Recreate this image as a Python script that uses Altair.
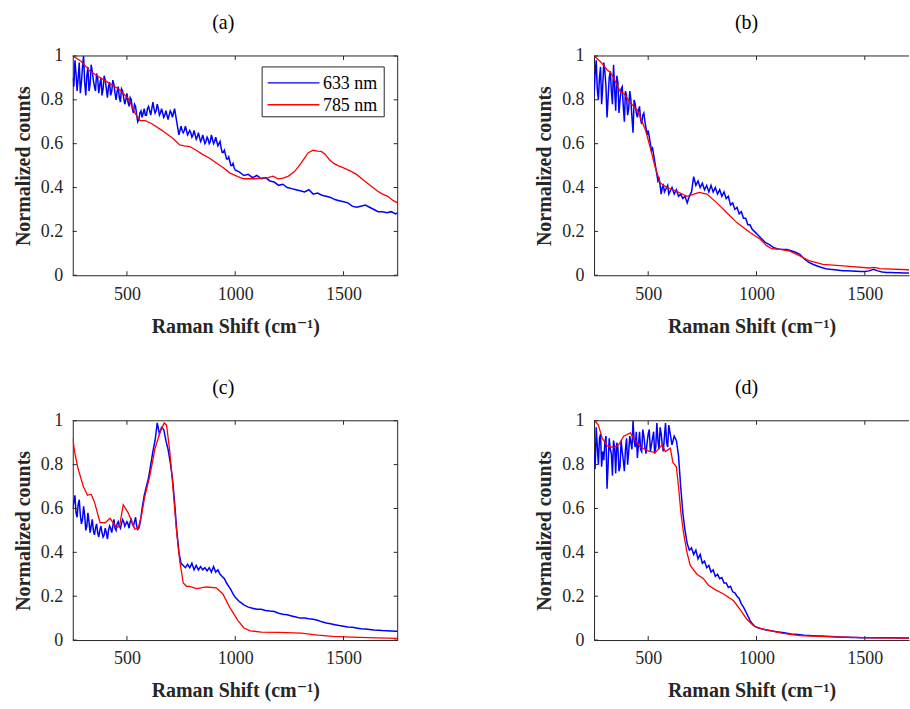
import altair as alt
import pandas as pd

FONT = "'Liberation Serif', 'Times New Roman', Times, 'DejaVu Serif', serif"
AX = "#262626"
SERIES = ["633 nm", "785 nm"]
COLORS = ["#0000ff", "#ff0000"]
X_TICKS = [500, 1000, 1500]
Y_TICKS = [0, 0.2, 0.4, 0.6, 0.8, 1.0]
X_TITLE = "Raman Shift (cm\u207b\u00b9)"
Y_TITLE = "Normalized counts"
PANEL_TITLES = ["(a)", "(b)", "(c)", "(d)"]

# sample positions of the 633 nm spectra
XB = list(range(250, 1001, 10)) + list(range(1020, 1741, 20)) + [1750]
XF = list(range(255, 596, 10))      # extra samples in the noisy low-shift part
XF_A = list(range(605, 996, 10))    # extra samples for panel (a)

A_BLUE = [0.90, 0.98, 0.84, 0.97, 0.88, 1.00, 0.82, 0.95, 0.87, 0.93,
          0.86, 0.92, 0.83, 0.90, 0.85, 0.89, 0.81, 0.88, 0.84, 0.87,
          0.80, 0.86, 0.79, 0.84, 0.78, 0.83, 0.77, 0.80, 0.74, 0.77,
          0.70, 0.74, 0.72, 0.76, 0.73, 0.77, 0.73, 0.79, 0.74, 0.78,
          0.73, 0.76, 0.72, 0.75, 0.71, 0.75, 0.72, 0.76, 0.70, 0.64,
          0.68, 0.65, 0.68, 0.64, 0.66, 0.63, 0.66, 0.62, 0.65, 0.61,
          0.64, 0.60, 0.63, 0.60, 0.64, 0.60, 0.63, 0.59, 0.61, 0.56,
          0.57, 0.53, 0.54, 0.50, 0.51, 0.48,
          0.47, 0.455, 0.46, 0.445, 0.455, 0.44, 0.445, 0.43, 0.425, 0.41,
          0.415, 0.40, 0.395, 0.39, 0.385, 0.38, 0.39, 0.37, 0.375, 0.365,
          0.36, 0.355, 0.345, 0.34, 0.335, 0.33, 0.315, 0.31, 0.315, 0.32,
          0.31, 0.30, 0.29, 0.29, 0.285, 0.29, 0.28,
          0.285]
A_BLUE_F = [0.86, 0.92, 0.90, 0.83, 0.95, 0.88, 0.91, 0.84, 0.96, 0.89,
            0.84, 0.90, 0.87, 0.82, 0.91, 0.85, 0.86, 0.82, 0.89, 0.83,
            0.84, 0.81, 0.85, 0.81, 0.80, 0.79, 0.81, 0.76, 0.78, 0.73,
            0.71, 0.75, 0.74, 0.73, 0.76]
A_BLUE_FA = [0.75, 0.76, 0.76, 0.75, 0.76, 0.74, 0.74, 0.73, 0.73, 0.73,
             0.74, 0.74, 0.73, 0.67, 0.66, 0.66, 0.66, 0.66, 0.65, 0.65,
             0.64, 0.64, 0.63, 0.63, 0.62, 0.62, 0.61, 0.62, 0.61, 0.62,
             0.61, 0.61, 0.60, 0.58, 0.56, 0.55, 0.53, 0.52, 0.50, 0.49]
A_RED_X = [250, 290, 330, 370, 422, 468, 506, 537, 560, 585, 613, 660, 713, 744,
           765, 790, 820, 851, 880, 913, 945, 974, 1012, 1040, 1090, 1120, 1152,
           1175, 1198, 1220, 1244, 1275, 1305, 1336, 1359, 1380, 1397, 1415, 1435,
           1455, 1474, 1500, 1535, 1560, 1597, 1630, 1658, 1680, 1704, 1730, 1750]
A_RED_Y = [1.0, 0.975, 0.93, 0.905, 0.874, 0.845, 0.806, 0.74, 0.705, 0.705, 0.692,
           0.662, 0.624, 0.594, 0.59, 0.587, 0.57, 0.55, 0.535, 0.512, 0.49, 0.467,
           0.45, 0.44, 0.44, 0.443, 0.445, 0.452, 0.44, 0.443, 0.451, 0.474, 0.512,
           0.558, 0.57, 0.566, 0.565, 0.552, 0.527, 0.51, 0.50, 0.49, 0.474, 0.46,
           0.43, 0.405, 0.383, 0.37, 0.36, 0.34, 0.33]

B_BLUE = [0.82, 0.98, 0.80, 0.95, 0.86, 0.93, 0.72, 0.90, 0.84, 0.96,
          0.75, 0.88, 0.80, 0.86, 0.70, 0.82, 0.76, 0.80, 0.65, 0.78,
          0.72, 0.77, 0.69, 0.74, 0.67, 0.66, 0.60, 0.58, 0.52, 0.46,
          0.44, 0.37, 0.41, 0.39, 0.41, 0.38, 0.40, 0.37, 0.39, 0.36,
          0.37, 0.35, 0.36, 0.33, 0.36, 0.38, 0.45, 0.41, 0.43, 0.40,
          0.42, 0.39, 0.41, 0.38, 0.41, 0.38, 0.40, 0.37, 0.39, 0.36,
          0.38, 0.35, 0.36, 0.32, 0.33, 0.30, 0.31, 0.28, 0.29, 0.26,
          0.26, 0.23, 0.23, 0.21, 0.20, 0.19,
          0.17, 0.15, 0.14, 0.125, 0.12, 0.118, 0.118, 0.112, 0.105, 0.095,
          0.075, 0.06, 0.05, 0.042, 0.035, 0.03, 0.027, 0.025, 0.023, 0.021,
          0.02, 0.019, 0.018, 0.017, 0.017, 0.02, 0.027, 0.02, 0.015, 0.013,
          0.012, 0.011, 0.011, 0.01, 0.01, 0.01, 0.01,
          0.01]
B_BLUE_F = [0.92, 0.85, 0.90, 0.78, 0.97, 0.86, 0.81, 0.93, 0.78, 0.85,
            0.91, 0.74, 0.85, 0.77, 0.84, 0.73, 0.84, 0.72, 0.80, 0.74,
            0.75, 0.71, 0.73, 0.70, 0.64, 0.63, 0.57, 0.55, 0.49, 0.43,
            0.41, 0.40, 0.38, 0.40, 0.37]
B_RED_X = [250, 280, 311, 326, 340, 372, 387, 418, 449, 487, 510, 533, 556, 587,
           633, 679, 705, 735, 771, 817, 863, 909, 970, 1016, 1047, 1070, 1108,
           1154, 1200, 1246, 1307, 1430, 1520, 1545, 1570, 1700, 1750]
B_RED_Y = [1.0, 0.974, 0.936, 0.925, 0.90, 0.836, 0.83, 0.785, 0.755, 0.664, 0.58,
           0.49, 0.42, 0.40, 0.382, 0.36, 0.368, 0.378, 0.37, 0.33, 0.285, 0.24,
           0.195, 0.165, 0.135, 0.121, 0.118, 0.11, 0.088, 0.065, 0.05, 0.04,
           0.033, 0.036, 0.03, 0.025, 0.024]

C_BLUE = [0.60, 0.66, 0.56, 0.64, 0.53, 0.61, 0.50, 0.58, 0.49, 0.55,
          0.48, 0.53, 0.47, 0.52, 0.47, 0.51, 0.46, 0.52, 0.49, 0.55,
          0.50, 0.54, 0.51, 0.55, 0.52, 0.54, 0.51, 0.55, 0.52, 0.56,
          0.505, 0.53, 0.60, 0.66, 0.70, 0.74, 0.80, 0.86, 0.91, 0.99,
          0.94, 0.97, 0.96, 0.91, 0.87, 0.81, 0.74, 0.63, 0.50, 0.40,
          0.35, 0.34, 0.33, 0.345, 0.33, 0.35, 0.32, 0.34, 0.32, 0.335,
          0.32, 0.33, 0.315, 0.33, 0.31, 0.335, 0.31, 0.32, 0.30, 0.29,
          0.28, 0.26, 0.245, 0.23, 0.21, 0.195,
          0.175, 0.16, 0.15, 0.145, 0.14, 0.14, 0.135, 0.132, 0.13, 0.122,
          0.118, 0.115, 0.11, 0.105, 0.10, 0.10, 0.097, 0.095, 0.09, 0.083,
          0.078, 0.074, 0.07, 0.066, 0.063, 0.06, 0.058, 0.055, 0.052, 0.05,
          0.048, 0.046, 0.045, 0.043, 0.042, 0.041, 0.04,
          0.04]
C_BLUE_F = [0.63, 0.58, 0.62, 0.57, 0.55, 0.57, 0.52, 0.54, 0.52, 0.50,
            0.51, 0.49, 0.50, 0.49, 0.48, 0.49, 0.50, 0.51, 0.52, 0.51,
            0.53, 0.52, 0.53, 0.54, 0.53, 0.53, 0.54, 0.53, 0.54, 0.52,
            0.51, 0.56, 0.63, 0.68, 0.72]
C_RED_X = [250, 260, 275, 299, 318, 335, 350, 376, 400, 422, 452, 466, 483, 506,
           521, 537, 552, 567, 583, 606, 629, 652, 672, 683, 698, 713, 728, 744,
           760, 775, 790, 821, 867, 913, 943, 974, 1012, 1040, 1070, 1121, 1200,
           1305, 1382, 1450, 1535, 1650, 1750]
C_RED_Y = [0.92, 0.85, 0.78, 0.70, 0.66, 0.665, 0.63, 0.536, 0.535, 0.555, 0.513,
           0.52, 0.617, 0.58, 0.545, 0.505, 0.51, 0.567, 0.657, 0.75, 0.87, 0.945,
           0.99, 0.98, 0.86, 0.69, 0.51, 0.36, 0.26, 0.245, 0.245, 0.235, 0.242,
           0.238, 0.21, 0.15, 0.09, 0.055, 0.042, 0.036, 0.035, 0.032, 0.022,
           0.017, 0.013, 0.01, 0.008]

D_BLUE = [0.85, 0.97, 0.80, 0.94, 0.86, 0.90, 0.69, 0.92, 0.85, 0.91,
          0.76, 0.88, 0.79, 0.86, 0.77, 0.92, 0.86, 0.90, 1.00, 0.88,
          0.83, 0.95, 0.86, 0.93, 0.85, 0.94, 0.86, 0.92, 0.85, 0.99,
          0.87, 0.94, 0.86, 0.99, 0.88, 0.95, 0.89, 0.93, 0.91, 0.84,
          0.70, 0.58, 0.50, 0.44, 0.41, 0.42, 0.39, 0.41, 0.37, 0.39,
          0.35, 0.36, 0.33, 0.34, 0.31, 0.32, 0.29, 0.30, 0.28, 0.285,
          0.26, 0.26, 0.24, 0.245, 0.22, 0.215, 0.20, 0.19, 0.165, 0.15,
          0.13, 0.11, 0.09, 0.075, 0.065, 0.058,
          0.052, 0.047, 0.044, 0.04, 0.037, 0.034, 0.031, 0.028, 0.026, 0.024,
          0.022, 0.021, 0.02, 0.019, 0.018, 0.017, 0.016, 0.015, 0.014, 0.013,
          0.013, 0.012, 0.012, 0.011, 0.011, 0.01, 0.01, 0.01, 0.01, 0.01,
          0.01, 0.01, 0.009, 0.009, 0.009, 0.008, 0.008,
          0.008]
D_BLUE_F = [0.78, 0.88, 0.92, 0.79, 0.82, 0.93, 0.80, 0.87, 0.75, 0.88,
            0.90, 0.77, 0.91, 0.82, 0.87, 0.80, 0.93, 0.87, 0.91, 0.95,
            0.89, 0.87, 0.96, 0.88, 0.90, 0.96, 0.89, 0.95, 0.88, 0.91,
            0.97, 0.89, 0.93, 0.90, 0.98]
D_RED_X = [252, 270, 288, 311, 341, 364, 387, 418, 433, 464, 503, 533, 564, 579,
           602, 614, 630, 640, 651, 663, 679, 694, 725, 755, 778, 809, 848, 893,
           924, 955, 985, 1010, 1047, 1123, 1200, 1354, 1550, 1750]
D_RED_Y = [1.0, 0.98, 0.92, 0.885, 0.878, 0.89, 0.93, 0.945, 0.92, 0.88, 0.862,
           0.855, 0.89, 0.86, 0.875, 0.81, 0.79, 0.70, 0.58, 0.49, 0.40, 0.34,
           0.30, 0.28, 0.25, 0.23, 0.21, 0.18, 0.14, 0.095, 0.066, 0.055, 0.046,
           0.03, 0.02, 0.014, 0.01, 0.008]

W_L, W_R, H = 326, 316, 220
TK = 4


def legend_layers():
    one = pd.DataFrame({"k": [0]})
    out = [alt.Chart(one).mark_rect(fill="white", stroke=AX, strokeWidth=1).encode(
        x=alt.value(190), x2=alt.value(312.5), y=alt.value(11), y2=alt.value(61))]
    for i, (name, col) in enumerate(zip(SERIES, COLORS)):
        yy = 27 + 22 * i
        out.append(alt.Chart(one).mark_rule(color=col, strokeWidth=1.4).encode(
            x=alt.value(195.5), x2=alt.value(247.5), y=alt.value(yy)))
        out.append(alt.Chart(pd.DataFrame({"label": [name]})).mark_text(
            align="left", baseline="middle", font=FONT, fontSize=18, color="black"
        ).encode(x=alt.value(251), y=alt.value(yy + 1), text="label:N"))
    return out


def panel(title, blue_sets, red_x, red_y, width, xmax, show_legend, right_border, dx):
    rows = []
    for xs_, ys_ in blue_sets:
        rows += [{"x": x, "y": y, "series": SERIES[0]} for x, y in zip(xs_, ys_)]
    rows += [{"x": x, "y": y, "series": SERIES[1]} for x, y in zip(red_x, red_y)]
    df = pd.DataFrame(rows)
    xs = alt.Scale(domain=[250, xmax], nice=False, zero=False)
    ys = alt.Scale(domain=[0, 1], nice=False)
    xax = alt.Axis(values=X_TICKS, format="d", ticks=False, grid=False, domain=True,
                   labelPadding=10, titlePadding=13, labelFlush=False)
    yax = alt.Axis(values=Y_TICKS, format="~g", ticks=False, grid=False, domain=True,
                   labelPadding=10, titlePadding=7, labelFlush=False)
    lines = alt.Chart(df).mark_line(clip=True).encode(
        x=alt.X("x:Q", scale=xs, axis=xax, title=X_TITLE, sort=None),
        y=alt.Y("y:Q", scale=ys, axis=yax, title=Y_TITLE),
        color=alt.Color("series:N", scale=alt.Scale(domain=SERIES, range=COLORS),
                        legend=None),
        strokeWidth=alt.StrokeWidth("series:N",
                                    scale=alt.Scale(domain=SERIES, range=[1.5, 1.3]),
                                    legend=None),
        order=alt.Order("x:Q"),
    )
    xt = pd.DataFrame({"x": X_TICKS})
    yt = pd.DataFrame({"y": Y_TICKS})
    one = pd.DataFrame({"k": [0]})
    layers = [lines]
    layers.append(alt.Chart(xt).mark_rule(color=AX, strokeWidth=1).encode(
        x=alt.X("x:Q", scale=xs, axis=xax, title=X_TITLE),
        y=alt.value(H), y2=alt.value(H - TK)))
    layers.append(alt.Chart(xt).mark_rule(color=AX, strokeWidth=1).encode(
        x=alt.X("x:Q", scale=xs, axis=xax, title=X_TITLE),
        y=alt.value(0), y2=alt.value(TK)))
    layers.append(alt.Chart(yt).mark_rule(color=AX, strokeWidth=1).encode(
        y=alt.Y("y:Q", scale=ys, axis=yax, title=Y_TITLE),
        x=alt.value(0), x2=alt.value(TK)))
    if right_border:
        layers.append(alt.Chart(yt).mark_rule(color=AX, strokeWidth=1).encode(
            y=alt.Y("y:Q", scale=ys, axis=yax, title=Y_TITLE),
            x=alt.value(width - TK), x2=alt.value(width)))
        layers.append(alt.Chart(one).mark_rule(color=AX, strokeWidth=1).encode(
            x=alt.value(width), y=alt.value(0), y2=alt.value(H)))
    layers.append(alt.Chart(one).mark_rule(color=AX, strokeWidth=1).encode(
        x=alt.value(0), x2=alt.value(width), y=alt.value(0)))
    if show_legend:
        layers += legend_layers()
    return alt.layer(*layers).properties(
        width=width, height=H,
        title=alt.TitleParams(title, font=FONT, fontSize=20, fontWeight="normal",
                              color="black", frame="group", anchor="middle",
                              baseline="alphabetic", offset=-2, dx=dx),
    )


pa = panel(PANEL_TITLES[0], [(XB, A_BLUE), (XF, A_BLUE_F), (XF_A, A_BLUE_FA)],
           A_RED_X, A_RED_Y, W_L, 1750, True, True, -12)
pb = panel(PANEL_TITLES[1], [(XB, B_BLUE), (XF, B_BLUE_F)],
           B_RED_X, B_RED_Y, W_R, 1704, False, False, -5)
pc = panel(PANEL_TITLES[2], [(XB, C_BLUE), (XF, C_BLUE_F)],
           C_RED_X, C_RED_Y, W_L, 1750, False, True, -12)
pd_ = panel(PANEL_TITLES[3], [(XB, D_BLUE), (XF, D_BLUE_F)],
            D_RED_X, D_RED_Y, W_R, 1704, False, False, -5)

chart = alt.concat(
    pa, pb, pc, pd_, columns=2,
    spacing=alt.RowColnumber(row=146, column=197), bounds="flush",
).resolve_scale(color="independent", x="independent", y="independent",
                strokeWidth="independent").properties(
    padding={"left": 13, "top": 12, "right": 0, "bottom": 0},
    background="white",
).configure_view(stroke=None).configure_axis(
    labelFont=FONT, labelFontSize=18, labelColor=AX,
    titleFont=FONT, titleFontSize=20, titleFontWeight="bold", titleColor=AX,
    domainColor=AX, domainWidth=1,
)

chart.save("out.html", embed_options={"renderer": "svg", "actions": False})
